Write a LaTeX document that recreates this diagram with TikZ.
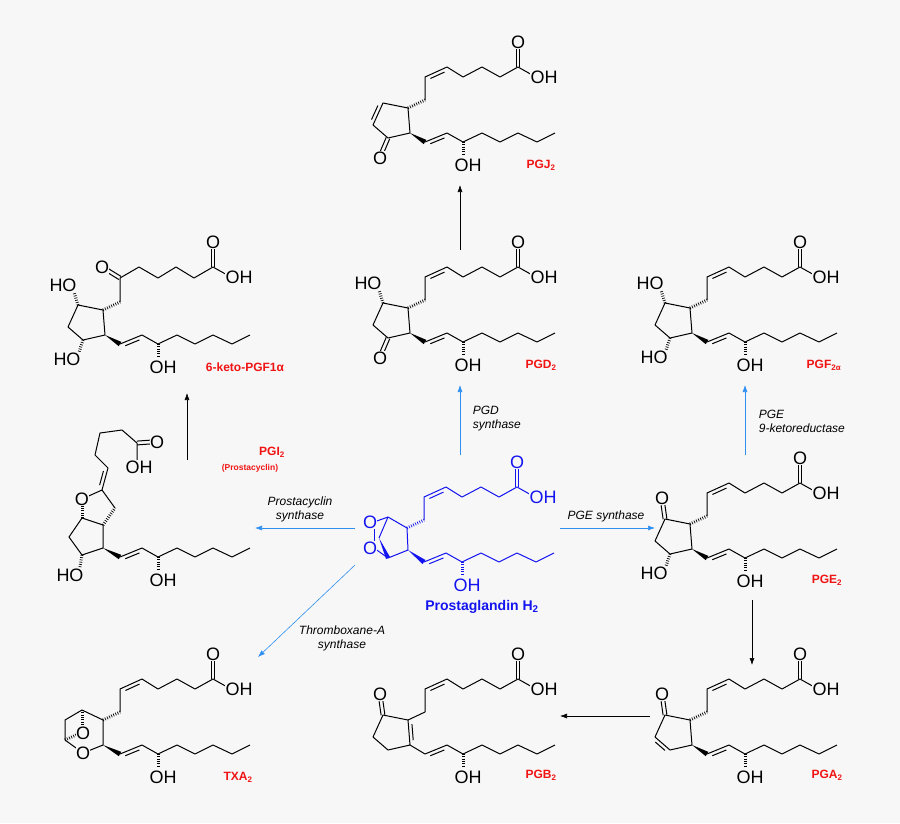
\documentclass[tikz,border=0pt]{standalone}
\usepackage{fontspec}
\setmainfont{Liberation Sans}
\usetikzlibrary{calc,arrows.meta}
\definecolor{bg}{HTML}{F7F7F7}
\definecolor{enz}{HTML}{2E8FF0}
\definecolor{pgblue}{HTML}{1414F0}
\definecolor{pgred}{HTML}{F01414}
\tikzset{
        % atom labels
        atom/.style={font=\fontsize{18}{18}\selectfont, inner sep=0.3pt, fill=bg},
        % hashed bonds
        hash/.style={line width=3pt, dash pattern=on 0.7pt off 1.6pt},
        % compound names
        cname/.style={font=\bfseries\fontsize{12}{12}\selectfont, text=pgred},
        % enzyme names
        enzyme/.style={font=\itshape\fontsize{12}{14}\selectfont, align=center},
        % arrows
        react/.style={-{Latex[length=7pt,width=5pt]}, line width=0.6pt},
        enzreact/.style={react, enz}
}
\newcommand\hb[2]{\draw[hash] #1 -- #2;}
\newcommand\wb[2]{\fill #1 -- ($#2!2.5pt!90:#1$) -- ($#2!2.5pt!-90:#1$) -- cycle;}
\newcommand\dbl[2]{\draw ($#1!1.9pt!90:#2$) -- ($#2!1.9pt!-90:#1$);
                   \draw ($#1!1.9pt!-90:#2$) -- ($#2!1.9pt!90:#1$);}
\newcommand\idb[3]{\draw ($#1!.18!#2!3.6pt!#3:#2$) -- ($#1!.82!#2!3.6pt!-#3:#1$);}
% upper chain from C8 side
\newcommand\upchain{
  \draw (17,-8)--(17,-31)--(39,-41)--(55,-31)--(74,-41)--(92,-31)--(110,-41)--(126,-32);
  \idb{(17,-31)}{(39,-41)}{-90}
  \dbl{(110,-41)}{(110,-60)}
  \node[atom] at (110,-66) {O};
  \node[atom] at (136,-31) {OH};
}
% lower chain from C12 side
\newcommand\lowchain{
  \draw (17,34)--(39,25)--(55,34)--(74,25)--(92,34)--(110,25)--(129,34)--(147,25);
  \idb{(17,34)}{(39,25)}{-90}
  \hb{(55,34)}{(55,47)}
  \node[atom] at (60,57) {OH};
}
% ketone on C9
\newcommand\ketonine{
  \dbl{(-25,-5)}{(-27,-19)}
  \node[atom] at (-28,-26) {O};
}

\begin{document}
\begin{tikzpicture}[x=1pt, y=-1pt, line width=1pt, line join=round]
\fill[bg] (0,0) rectangle (900,823);
\useasboundingbox (0,0) rectangle (900,823);

% PGJ2
\begin{scope}[shift={(408,108)}]
  \draw (-25,-5)--(-35,17)--(-20,30)--(2,25)--(0,0)--cycle;
  \idb{(-25,-5)}{(-35,17)}{-90}
  \dbl{(-20,30)}{(-26,44)}
  \node[atom] at (-28,50) {O};
  \hb{(0,0)}{(17,-8)} \wb{(2,25)}{(17,34)}
  \upchain \lowchain
\end{scope}

% PGD2
\begin{scope}[shift={(408,308)}]
  \draw (-25,-5)--(-35,17)--(-20,30)--(2,25)--(0,0)--cycle;
  \hb{(-25,-5)}{(-29,-18)}
  \node[atom] at (-40,-25) {HO};
  \dbl{(-20,30)}{(-26,44)}
  \node[atom] at (-28,50) {O};
  \hb{(0,0)}{(17,-8)} \wb{(2,25)}{(17,34)}
  \upchain \lowchain
\end{scope}

% PGF2alpha
\begin{scope}[shift={(690,308)}]
  \draw (-25,-5)--(-35,17)--(-20,30)--(2,25)--(0,0)--cycle;
  \hb{(-25,-5)}{(-29,-18)}
  \node[atom] at (-40,-25) {HO};
  \hb{(-20,30)}{(-24,42)}
  \node[atom] at (-36,49) {HO};
  \hb{(0,0)}{(17,-8)} \wb{(2,25)}{(17,34)}
  \upchain \lowchain
\end{scope}

% 6-keto-PGF1alpha
\begin{scope}[shift={(103,310)}]
  \draw (-25,-5)--(-35,17)--(-20,30)--(2,25)--(0,0)--cycle;
  \hb{(-25,-5)}{(-29,-18)}
  \node[atom] at (-40,-25) {HO};
  \hb{(-20,30)}{(-24,42)}
  \node[atom] at (-36,49) {HO};
  \hb{(0,0)}{(17,-8)} \wb{(2,25)}{(17,34)}
  \draw (17,-8)--(17,-32)--(36,-43)--(55,-32)--(73,-43)--(91,-32)--(110,-43)--(126,-34);
  \dbl{(17,-32)}{(4,-40)}
  \node[atom] at (-1,-43) {O};
  \dbl{(110,-43)}{(110,-62)}
  \node[atom] at (110,-68) {O};
  \node[atom] at (136,-33) {OH};
  \lowchain
\end{scope}

% PGI2
\begin{scope}
  \draw (82,518)--(103,525)--(103,548)--(82,555)--(69,537)--cycle;
  \hb{(82,518)}{(82,506)}
  \draw (82,499)--(102,490)--(115,508);
  \hb{(103,525)}{(115,508)}
  \draw (102,490)--(108,468)--(95,455)--(100,433)--(122,430)--(137,443)--(137,460);
  \idb{(102,490)}{(108,468)}{90}
  \dbl{(137,443)}{(151,442)}
  \node[atom] at (82,499) {O};
  \node[atom] at (157,442) {O};
  \node[atom] at (139,467) {OH};
  \hb{(82,555)}{(80,567)}
  \node[atom] at (70,575) {HO};
  \begin{scope}[shift={(103,523)}]
    \wb{(0,25)}{(17,34)}
    \lowchain
  \end{scope}
\end{scope}

% PGH2
\begin{scope}[shift={(407,528)}, pgblue]
  \draw (0,0)--(-19,-11)--(-33,-6);
  \draw (-33,20)--(-19,30)--(1,22)--(0,0);
  \draw (-33,-1)--(-33,15);
  \draw (-19,-11)--(-28,10);
  \fill (-28,10) -- (-17,29) -- (-21,31) -- cycle;
  \node[atom, text=pgblue] at (-37,-6) {O};
  \node[atom, text=pgblue] at (-37,20) {O};
  \hb{(0,0)}{(17,-8)} \wb{(1,22)}{(17,34)}
  \upchain \lowchain
\end{scope}

% PGE2
\begin{scope}[shift={(690,524)}]
  \draw (-25,-5)--(-35,17)--(-20,30)--(2,25)--(0,0)--cycle;
  \ketonine
  \hb{(-20,30)}{(-24,42)}
  \node[atom] at (-36,49) {HO};
  \hb{(0,0)}{(17,-8)} \wb{(2,25)}{(17,34)}
  \upchain \lowchain
\end{scope}

% PGA2
\begin{scope}[shift={(690,720)}]
  \draw (-25,-5)--(-35,17)--(-20,30)--(2,25)--(0,0)--cycle;
  \idb{(-35,17)}{(-20,30)}{-90}
  \ketonine
  \hb{(0,0)}{(17,-8)} \wb{(2,25)}{(17,34)}
  \upchain \lowchain
\end{scope}

% PGB2
\begin{scope}[shift={(408,720)}]
  \draw (-25,-5)--(-35,17)--(-20,30)--(2,25)--(0,0)--cycle;
  \idb{(0,0)}{(2,25)}{90}
  \ketonine
  \draw (0,0)--(17,-8); \draw (2,25)--(17,34);
  \upchain
  \draw (17,34)--(39,25)--(55,34)--(74,25)--(92,34)--(110,25)--(129,34)--(147,25);
  \idb{(17,34)}{(39,25)}{-90}
  \hb{(55,34)}{(55,47)}
  \node[atom] at (60,57) {OH};
\end{scope}

% TXA2
\begin{scope}[shift={(103,720)}]
  \draw (-21,-10)--(0,0)--(0,25)--(-20,33)--(-38,20)--(-38,0)--cycle;
  \hb{(-21,-10)}{(-21,6)}
  \hb{(-38,20)}{(-27,15)}
  \node[atom] at (-20,33) {O};
  \node[atom] at (-20,13) {O};
  \hb{(0,0)}{(17,-8)} \wb{(0,25)}{(17,34)}
  \upchain \lowchain
\end{scope}

% compound names
\node[cname] (pgj) at (541,165) {PGJ\textsubscript{2}};
\node[cname] (pgd) at (541,365) {PGD\textsubscript{2}};
\node[cname] (pgf) at (824,365) {PGF\textsubscript{2α}};
\node[cname] (keto) at (245,367) {6-keto-PGF1α};
\node[cname] (pgi) at (272,452) {PGI\textsubscript{2}};
\node[cname, font=\bfseries\fontsize{8.5}{8.5}\selectfont] (prc) at (250,468) {(Prostacyclin)};
\node[cname, text=pgblue, font=\bfseries\fontsize{14}{14}\selectfont] (pgh) at (482,607) {Prostaglandin H\textsubscript{2}};
\node[cname] (pge) at (827,580) {PGE\textsubscript{2}};
\node[cname] (pga) at (827,775) {PGA\textsubscript{2}};
\node[cname] (pgb) at (541,775) {PGB\textsubscript{2}};
\node[cname] (txa) at (238,777) {TXA\textsubscript{2}};

% enzymes
\node[enzyme, align=left, anchor=west] (pgds) at (469,419) {PGD\\synthase};
\node[enzyme] (pges) at (606,516) {PGE synthase};
\node[enzyme, align=left, anchor=west] (pger) at (755,421) {PGE\\9-ketoreductase};
\node[enzyme] (pcs) at (300,509) {Prostacyclin\\synthase};
\node[enzyme] (txs) at (342,638) {Thromboxane-A\\synthase};

% arrows
\coordinate (hd0) at (460,455); \coordinate (hd1) at (460,385);
\coordinate (dj0) at (460,250); \coordinate (dj1) at (460,185);
\coordinate (he0) at (560,528); \coordinate (he1) at (655,528);
\coordinate (hi0) at (355,528); \coordinate (hi1) at (255,528);
\coordinate (ht0) at (355,565); \coordinate (ht1) at (258,657);
\coordinate (ef0) at (745,455); \coordinate (ef1) at (745,385);
\coordinate (ea0) at (752,600); \coordinate (ea1) at (752,665);
\coordinate (ab0) at (650,716); \coordinate (ab1) at (560,716);
\coordinate (ik0) at (187,460); \coordinate (ik1) at (187,393);
\draw[enzreact] (hd0) -- (hd1);
\draw[react] (dj0) -- (dj1);
\draw[enzreact] (he0) -- (he1);
\draw[enzreact] (hi0) -- (hi1);
\draw[enzreact] (ht0) -- (ht1);
\draw[enzreact] (ef0) -- (ef1);
\draw[react] (ea0) -- (ea1);
\draw[react] (ab0) -- (ab1);
\draw[react] (ik0) -- (ik1);
\end{tikzpicture}
\end{document}
